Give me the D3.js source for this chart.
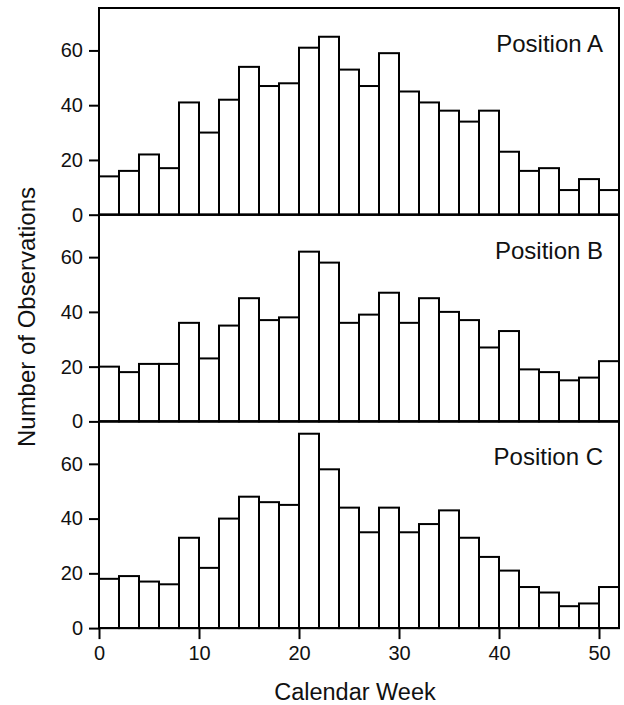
<!DOCTYPE html>
<html>
<head>
<meta charset="utf-8">
<script src="https://cdn.jsdelivr.net/npm/d3@7"></script>
<style>
  body { margin: 0; background: #fff; }
  text { font-family: "Liberation Sans", Arial, sans-serif; fill: #111; }
</style>
</head>
<body>
<script>
var width = 624;
var height = 705;

// bins of 2 calendar weeks, 0..52
var binStarts = d3.range(0, 52, 2);
var panels = ["Position A", "Position B", "Position C"];
var posA = [14,16,22,17,41,30,42,54,47,48,61,65,53,47,59,45,41,38,34,38,23,16,17,9,13,9];
var posB = [20,18,21,21,36,23,35,45,37,38,62,58,36,39,47,36,45,40,37,27,33,19,18,15,16,22];
var posC = [18,19,17,16,33,22,40,48,46,45,71,58,44,35,44,35,38,43,33,26,21,15,13,8,9,15];
var yTicks = [0, 20, 40, 60];
var xTicks = [0, 10, 20, 30, 40, 50];
var series = [posA, posB, posC];

var left = 99, right = 619;
var panelTop = 8, panelH = 206.7;

var svg = d3.select("body").append("svg")
  .attr("width", width)
  .attr("height", height);

var x = d3.scaleLinear().domain([0, 52]).range([left, right]);

series.forEach(function(vals, i){
  var top = panelTop + i * panelH;
  var y = d3.scaleLinear().domain([0, 75.5]).range([top + panelH, top]);
  var g = svg.append("g");

  g.selectAll("rect.bar")
    .data(vals)
    .enter()
    .append("rect")
    .attr("class", "bar")
    .attr("x", function(d, j){ return x(binStarts[j]); })
    .attr("width", function(d, j){ return x(binStarts[j] + 2) - x(binStarts[j]); })
    .attr("y", function(d){ return y(d); })
    .attr("height", function(d){ return y(0) - y(d); })
    .attr("fill", "#fff")
    .attr("stroke", "#000")
    .attr("stroke-width", 2);

  // frame
  g.append("rect")
    .attr("x", left).attr("y", top)
    .attr("width", right - left).attr("height", panelH)
    .attr("fill", "none")
    .attr("stroke", "#000")
    .attr("stroke-width", 2);

  var yAxis = g.append("g")
    .attr("transform", "translate(" + left + ",0)")
    .call(d3.axisLeft(y).tickValues(yTicks).tickSize(10).tickPadding(6));
  yAxis.select(".domain").remove();
  yAxis.selectAll("line").attr("stroke", "#000").attr("stroke-width", 2);
  yAxis.selectAll("text").style("font-size", "20px").style("font-family", "Liberation Sans, Arial, sans-serif").attr("fill", "#111");

  g.append("text")
    .attr("x", 603)
    .attr("y", top + 44)
    .attr("text-anchor", "end")
    .style("font-size", "24px")
    .text(panels[i]);
});

var bottom = panelTop + 3 * panelH;
var xAxis = svg.append("g")
  .attr("transform", "translate(0," + bottom + ")")
  .call(d3.axisBottom(x).tickValues(xTicks).tickSize(11).tickPadding(7));
xAxis.select(".domain").remove();
xAxis.selectAll("line").attr("stroke", "#000").attr("stroke-width", 2);
xAxis.selectAll("text").style("font-size", "20px").style("font-family", "Liberation Sans, Arial, sans-serif").attr("fill", "#111");

svg.append("text")
  .attr("x", 355)
  .attr("y", 700)
  .attr("text-anchor", "middle")
  .style("font-size", "23.5px")
  .text("Calendar Week");

svg.append("text")
  .attr("transform", "translate(35," + 317 + ") rotate(-90)")
  .attr("text-anchor", "middle")
  .style("font-size", "24px")
  .text("Number of Observations");
</script>
</body>
</html>
